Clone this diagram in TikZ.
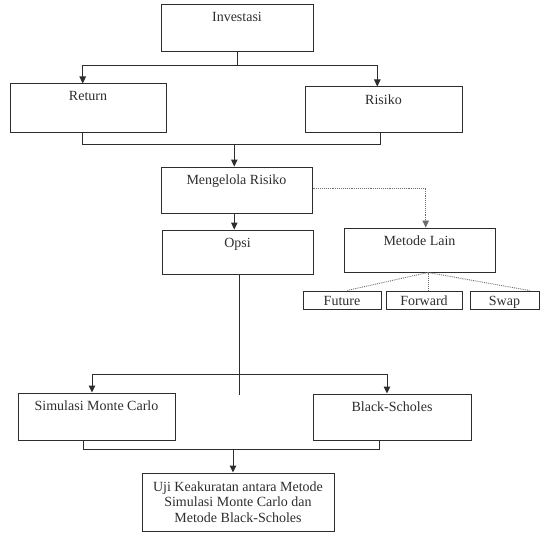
\documentclass[tikz,border=0pt]{standalone}
\usepackage{fontspec}
\setmainfont{Liberation Serif}
\usetikzlibrary{arrows.meta}
\definecolor{tinta}{RGB}{45,45,45}

\begin{document}
\begin{tikzpicture}[x=1pt,y=-1pt,
  every node/.style={font=\fontsize{14}{15.5}\selectfont,text=tinta},
  blok/.style 2 args={draw=tinta,line width=1pt,minimum width=#1,inner ysep=6.5pt,text height=10.5pt,text depth=#2},
  kecil/.style={draw=tinta,line width=1pt,minimum width=#1,minimum height=18pt,inner sep=0pt,text height=12pt,text depth=1pt},
  garis/.style={draw=tinta,line width=1pt},
  panah/.style={garis,-{Triangle[length=7pt,width=6.5pt]}},
  titik/.style={draw=tinta!70,line width=0.9pt,densely dotted},
  titikpanah/.style={titik,-{Triangle[length=7pt,width=6.5pt]}}]
\useasboundingbox (0,0) rectangle (540,532);
\node[blok={152pt}{23.5pt}] (inv) at (237,28) {Investasi};
\node[blok={156pt}{24.5pt}] (ret) at (88,108) {Return};
\node[blok={157pt}{21.5pt}] (ris) at (383.5,109.5) {Risiko};
\node[blok={151pt}{22.5pt}] (mgl) at (236.5,190) {Mengelola Risiko};
\node[blok={151pt}{20.5pt}] (opsi) at (237.5,252) {Opsi};
\node[blok={151pt}{20.5pt}] (lain) at (419.5,250) {Metode Lain};
\node[kecil=78pt] (fut) at (342,300) {Future};
\node[kecil=76pt] (fwd) at (424,300) {Forward};
\node[kecil=69pt] (swap) at (504.5,300) {Swap};
\node[blok={157pt}{23.5pt}] (mc) at (96.5,416.5) {Simulasi Monte Carlo};
\node[blok={158pt}{22.5pt}] (bs) at (392,417) {Black-Scholes};
\node[draw=tinta,line width=1pt,minimum width=192pt,minimum height=58pt,align=center] (uji) at (238,502)
  {Uji Keakuratan antara Metode\\Simulasi Monte Carlo dan\\Metode Black-Scholes};

\coordinate (s1) at (82.7,65.3);
\coordinate (s2) at (377.3,65.3);
\draw[garis] (inv.south) -- (inv.south |- s1);
\draw[garis] (s1) -- (s2);
\draw[panah] (s1) -- (s1 |- ret.north);
\draw[panah] (s2) -- (s2 |- ris.north);

\coordinate (b1) at (82.7,144.7);
\coordinate (b2) at (380.7,144.7);
\coordinate (b3) at (234.3,144.7);
\draw[garis] (ret.south -| b1) -- (b1) -- (b2) -- (ris.south -| b2);
\draw[panah] (b3) -- (b3 |- mgl.north);
\draw[panah] (mgl.south -| b3) -- (opsi.north -| b3);

\coordinate (d1) at (425.7,188);
\draw[titikpanah] (mgl.east |- d1) -- (d1) -- (d1 |- lain.north);
\coordinate (d2) at ([xshift=8.5pt]lain.south);
\foreach \n/\dx in {fut/5,fwd/4,swap/25}
  \draw[titik] (d2) -- ([xshift=\dx pt]\n.north);

\coordinate (o1) at (239,395);
\draw[garis] ([xshift=1.5pt]opsi.south) -- (o1);
\coordinate (m1) at (92,374);
\coordinate (m2) at (387,374);
\draw[garis] (m1) -- (m2);
\draw[panah] (m1) -- (m1 |- mc.north);
\draw[panah] (m2) -- (m2 |- bs.north);

\coordinate (u1) at (83,449);
\coordinate (u2) at (379,449);
\coordinate (u3) at (233,449);
\draw[garis] (mc.south -| u1) -- (u1) -- (u2) -- (bs.south -| u2);
\draw[panah] (u3) -- (u3 |- uji.north);
\end{tikzpicture}
\end{document}
